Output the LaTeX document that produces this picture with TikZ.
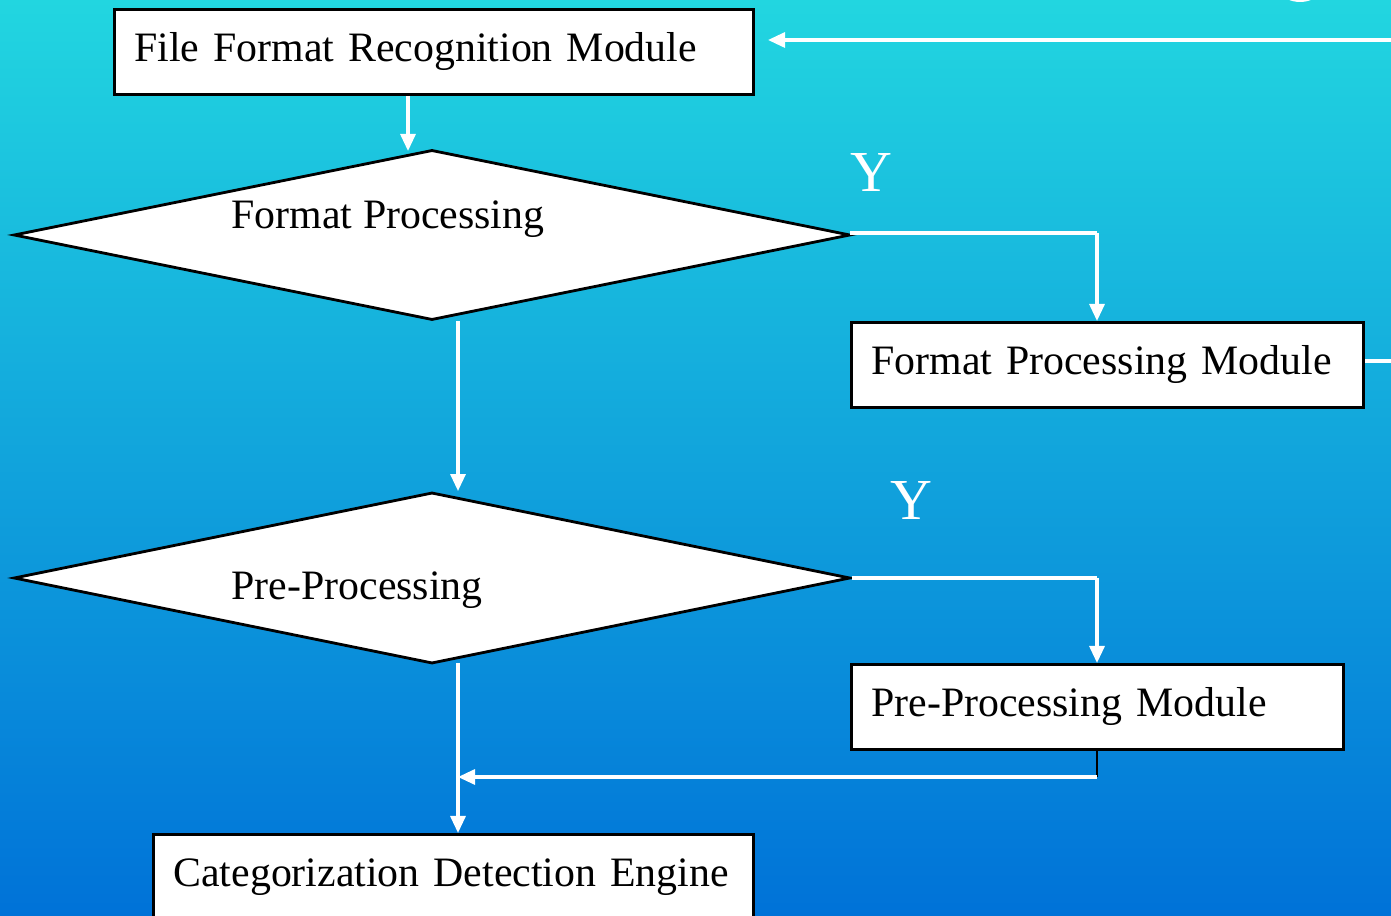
\documentclass[tikz,border=0pt]{standalone}
\usepackage{fontspec}
\setmainfont{Liberation Serif}
\usetikzlibrary{arrows.meta,positioning,shapes.geometric}
\definecolor{topcyan}{RGB}{34,214,224}
\definecolor{midblue}{RGB}{14,168,226}
\definecolor{lowblue}{RGB}{0,114,216}

\begin{document}
\begin{tikzpicture}[x=0.01cm,y=-0.01cm,>={Triangle[length=0.17cm,width=0.15cm]},
      module/.style={draw=black,line width=0.8pt,fill=white,rectangle,anchor=north west,
        minimum height=0.85cm,inner xsep=0.2cm,align=left,font=\fontsize{11.9}{14}\selectfont},
      decision/.style={draw=black,line width=0.8pt,fill=white,diamond,inner sep=0pt},
      label/.style={anchor=base west,inner sep=0pt,font=\fontsize{11.9}{14}\selectfont},
      yes/.style={anchor=base west,inner sep=0pt,text=white,font=\fontsize{16.5}{18}\selectfont},
      flow/.style={draw=white,line width=0.9pt}]
			\path[use as bounding box] (0,0) rectangle (1391,916);
			\clip (0,0) rectangle (1391,916);
			\shade[top color=topcyan,middle color=midblue,bottom color=lowblue] (0,0) rectangle (1391,916);
			\fill[white] (1300,-28) circle (30);

			\node[module,text width=5.99cm] (recog) at (113,8) {\mbox{File Format Recognition Module}};
			\node[decision,minimum width=8.36cm,minimum height=1.70cm] (fmt) at (432,235) {};
			\node[label] (fmttext) at (231,229) {Format Processing};
			\node[yes] (y1) at (850,192) {Y};
			\node[module,text width=4.72cm] (fmtmod) at (850,321) {\mbox{Format Processing Module}};
			\node[decision,minimum width=8.36cm,minimum height=1.71cm] (pre) at (432,578) {};
			\node[label] (pretext) at (231,600) {Pre-Processing};
			\node[yes] (y2) at (890,520) {Y};
			\node[module,text width=4.52cm] (premod) at (850,663) {\mbox{Pre-Processing Module}};
			\node[module,text width=5.60cm] (engine) at (152,833) {\mbox{Categorization Detection Engine}};

			\coordinate (drop0) at (408,151);
			\coordinate (drop1) at (458,321);
			\coordinate (drop2) at (458,663);
			\coordinate (fmtcorner) at (1097,233);
			\coordinate (precorner) at (1097,578);
			\coordinate (rejoin) at (1097,777);
			\coordinate (edgelow) at (1391,361);
			\coordinate (edgetop) at (1391,40);
			\coordinate (back) at (768,40);

			\draw[flow,->] (drop0 |- recog.south) -- (drop0);
			\draw[flow] (fmt.east) -- (fmtcorner -| fmt.east) -- (fmtcorner);
			\draw[flow,->] (fmtcorner) -- (fmtcorner |- fmtmod.north);
			\draw[flow,->] (drop1) -- (drop1 |- pre.north);
			\draw[flow] (pre.east) -- (precorner);
			\draw[flow,->] (precorner) -- (precorner |- premod.north);
			\draw[line width=0.8pt] (rejoin |- premod.south) -- (rejoin);
			\draw[flow,->] (rejoin) -- (rejoin -| drop2);
			\draw[flow,->] (drop2) -- (drop2 |- engine.north);
			\draw[flow] (fmtmod.east |- edgelow) -- (edgelow);
			\draw[flow,->] (edgetop) -- (back);
		\end{tikzpicture}
\end{document}
